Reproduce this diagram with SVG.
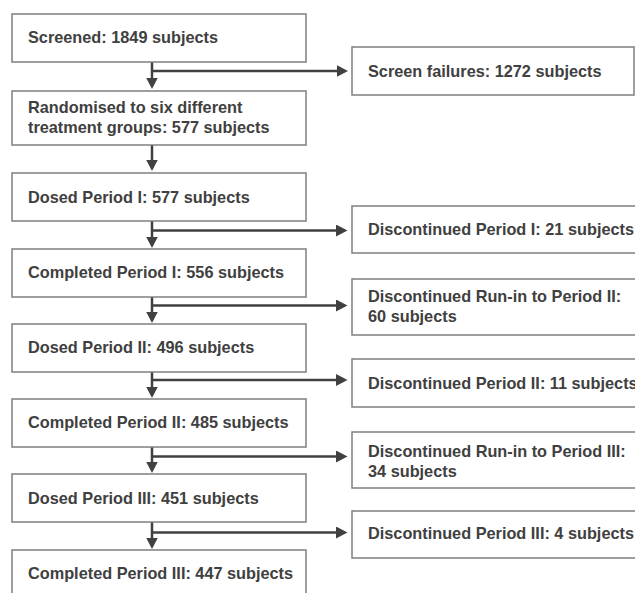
<svg xmlns="http://www.w3.org/2000/svg" width="635" height="593" viewBox="0 0 635 593">
<style>
.box{fill:#ffffff;stroke:#7f7f7f;stroke-width:1.5}
.t{font-family:"Liberation Sans",Arial,sans-serif;font-weight:bold;font-size:16.3px;fill:#404040}
.c{fill:none;stroke:#404040;stroke-width:2.5}
</style>
<defs>
<marker id="ah" markerUnits="userSpaceOnUse" markerWidth="14" markerHeight="14" refX="8" refY="6" orient="auto">
<path d="M0,0 L11.5,6 L0,12 z" fill="#404040"/>
</marker>
</defs>
<rect width="635" height="593" fill="#ffffff"/>
<g id="connectors">
<path class="c" d="M152,62 V85.5" marker-end="url(#ah)"/>
<path class="c" d="M152,71 H344.5" marker-end="url(#ah)"/>
<path class="c" d="M152,145 V167.5" marker-end="url(#ah)"/>
<path class="c" d="M152,221 V244.5" marker-end="url(#ah)"/>
<path class="c" d="M152,230.5 H344" marker-end="url(#ah)"/>
<path class="c" d="M152,297 V319.5" marker-end="url(#ah)"/>
<path class="c" d="M152,305.5 H344" marker-end="url(#ah)"/>
<path class="c" d="M152,372 V394.5" marker-end="url(#ah)"/>
<path class="c" d="M152,380 H344" marker-end="url(#ah)"/>
<path class="c" d="M152,447 V469.5" marker-end="url(#ah)"/>
<path class="c" d="M152,456.5 H344" marker-end="url(#ah)"/>
<path class="c" d="M152,522 V545.5" marker-end="url(#ah)"/>
<path class="c" d="M152,532.5 H344" marker-end="url(#ah)"/>
</g>
<g id="n1"><rect class="box" x="12" y="14" width="294" height="48"/><text class="t" x="28" y="43">Screened: 1849 subjects</text></g>
<g id="n2"><rect class="box" x="12" y="91" width="294" height="54"/><text class="t" x="28" y="113">Randomised to six different</text><text class="t" x="28" y="133">treatment groups: 577 subjects</text></g>
<g id="n3"><rect class="box" x="12" y="173" width="294" height="48"/><text class="t" x="28" y="203">Dosed Period I: 577 subjects</text></g>
<g id="n4"><rect class="box" x="12" y="249" width="294" height="48"/><text class="t" x="28" y="278">Completed Period I: 556 subjects</text></g>
<g id="n5"><rect class="box" x="12" y="324" width="294" height="48"/><text class="t" x="28" y="353">Dosed Period II: 496 subjects</text></g>
<g id="n6"><rect class="box" x="12" y="399" width="294" height="48"/><text class="t" x="28" y="428">Completed Period II: 485 subjects</text></g>
<g id="n7"><rect class="box" x="12" y="474" width="294" height="48"/><text class="t" x="28" y="504">Dosed Period III: 451 subjects</text></g>
<g id="n8"><rect class="box" x="12" y="550" width="294" height="60"/><text class="t" x="28" y="579">Completed Period III: 447 subjects</text></g>
<g id="r1"><rect class="box" x="352" y="47" width="282" height="48"/><text class="t" x="368" y="77">Screen failures: 1272 subjects</text></g>
<g id="r2"><rect class="box" x="352" y="206" width="300" height="47"/><text class="t" x="368" y="235">Discontinued Period I: 21 subjects</text></g>
<g id="r3"><rect class="box" x="352" y="279" width="300" height="56"/><text class="t" x="368" y="302">Discontinued Run-in to Period II:</text><text class="t" x="368" y="322">60 subjects</text></g>
<g id="r4"><rect class="box" x="352" y="359" width="300" height="48"/><text class="t" x="368" y="389">Discontinued Period II: 11 subjects</text></g>
<g id="r5"><rect class="box" x="352" y="432" width="300" height="56"/><text class="t" x="368" y="457">Discontinued Run-in to Period III:</text><text class="t" x="368" y="477">34 subjects</text></g>
<g id="r6"><rect class="box" x="352" y="511" width="300" height="47"/><text class="t" x="368" y="539">Discontinued Period III: 4 subjects</text></g>
</svg>
